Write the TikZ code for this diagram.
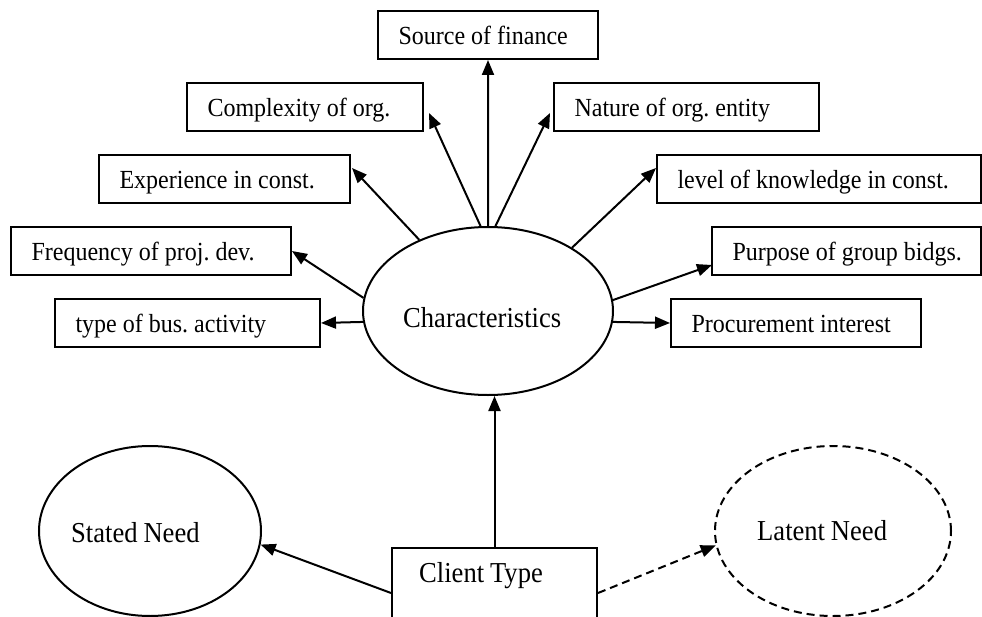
\documentclass[tikz,border=0pt]{standalone}
\usepackage{fontspec}
\setmainfont{Liberation Serif}[FakeStretch=0.92, WordSpace=0.88]
\newfontfamily\boxfont{Liberation Serif}[FakeStretch=0.92]
\usetikzlibrary{arrows.meta,shapes.geometric,calc}
\begin{document}
\frenchspacing
\begin{tikzpicture}[x=1bp,y=-1bp,
  box/.style={draw, rectangle, line width=2bp, minimum height=48bp,
    inner xsep=20.5bp, inner ysep=0pt, anchor=west,
    font=\boxfont\fontsize{26.1bp}{30bp}\selectfont, text height=19bp, text depth=0pt},
  bubble/.style={draw, ellipse, line width=2bp, inner sep=0pt},
  lbl/.style={inner sep=0pt, anchor=base west,
    font=\fontsize{28.9bp}{33bp}\selectfont},
  link/.style={line width=2bp, -{Triangle[length=15bp,width=12bp]}},
  hint/.style={link, dash pattern=on 8bp off 5bp}
]
\useasboundingbox (0,0) rectangle (982,617);
\clip (0,0) rectangle (982,617);
\fill[white] (0,0) rectangle (982,617);

% attribute boxes (west edge, vertical centre); text set flush left
\node[box] (source)      at (377,35)  {\makebox[179bp][l]{Source of finance}};
\node[box] (complexity)  at (186,107) {\makebox[195bp][l]{Complexity of org.}};
\node[box] (nature)      at (553,107) {\makebox[224bp][l]{Nature of org. entity}};
\node[box] (experience)  at (98,179)  {\makebox[210bp][l]{Experience in const.}};
\node[box] (knowledge)   at (656,179) {\makebox[283bp][l]{level of knowledge in const.}};
\node[box] (frequency)   at (10,251)  {\makebox[239bp][l]{Frequency of proj. dev.}};
\node[box] (purpose)     at (711,251) {\makebox[228bp][l]{Purpose of group bidgs.}};
\node[box] (business)    at (54,323)  {\makebox[224bp][l]{type of bus. activity}};
\node[box] (procurement) at (670,323) {\makebox[209bp][l]{Procurement interest}};

% central ellipse and the two needs
\node[bubble, minimum width=250bp, minimum height=168bp] (characteristics) at (488,311) {};
\node[bubble, minimum width=222bp, minimum height=170bp] (stated) at (150,531) {};
\node[bubble, dash pattern=on 8bp off 5bp, minimum width=236bp, minimum height=170bp] (latent) at (833,531) {};
\node[lbl] (charText)   at (403,327) {Characteristics};
\node[lbl] (statedText) at (71,542)  {Stated Need};
\node[lbl] (latentText) at (757,540) {Latent Need};

% client box, running off the lower edge
\node[draw, rectangle, line width=2bp, minimum width=205bp, minimum height=90bp,
  anchor=north, inner sep=0pt] (client) at (494.5,547) {};
\node[lbl] (clientText) at (419,582) {Client Type};

% arrows out of the characteristics ellipse
\draw[link] (characteristics.north) -- (source.south);
\draw[link] (characteristics.95)  -- ($(complexity.east)+(5,6)$);
\draw[link] (characteristics.85)  -- ($(nature.west)+(-3,6)$);
\draw[link] (characteristics.134) -- ($(experience.east)+(1,-11)$);
\draw[link] (characteristics.37)  -- ($(knowledge.west)+(0,-11)$);
\draw[link] (characteristics.174) -- (frequency.east);
\draw[link] (characteristics.5.5) -- ($(purpose.west)+(1,14)$);
\draw[link] (characteristics.185.5) -- (business.east);
\draw[link] (characteristics.-5.5) -- (procurement.west);

% arrows out of the client box
\draw[link] (client.north) -- (client.north |- characteristics.south);
\draw[link] (client.west) -- (stated.-7);
\draw[hint] (client.east) -- (latent.187);
\end{tikzpicture}
\end{document}
